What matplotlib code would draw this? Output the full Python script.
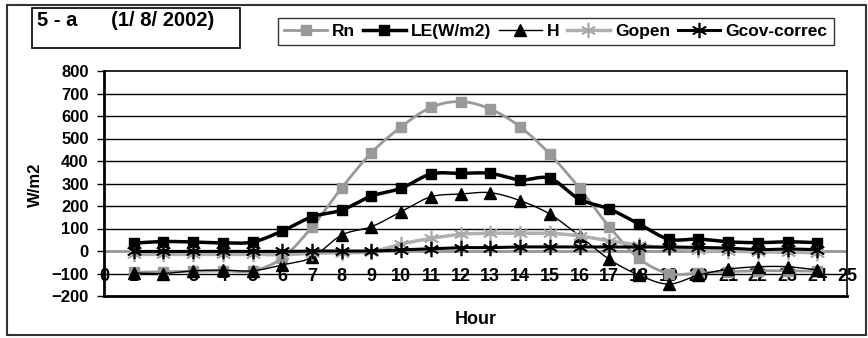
import numpy as np
import matplotlib
matplotlib.use("Agg")
import matplotlib.pyplot as plt
from matplotlib.lines import Line2D
from matplotlib.patches import Rectangle

plt.rcParams['font.family'] = ['Liberation Sans', 'DejaVu Sans']
plt.rcParams['font.weight'] = 'bold'

# hourly energy balance components, W/m2
hours = list(range(1, 25))
rn = [-95, -92, -90, -88, -88, -31, 107, 281, 437, 552, 638, 664,
      631, 552, 431, 279, 108, -33, -100, -98, -92, -88, -88, -90]
le = [35, 42, 40, 36, 40, 89, 152, 182, 244, 279, 342, 345,
      345, 316, 323, 230, 187, 120, 53, 53, 41, 37, 41, 37]
h = [-98, -100, -88, -85, -88, -62, -28, 71, 108, 175, 241, 253,
     259, 224, 164, 67, -37, -107, -147, -107, -81, -70, -70, -84]
gopen = [-15, -15, -15, -15, -15, -17, -10, -8, -3, 31, 56, 74,
         79, 79, 79, 67, 45, 27, 12, 5, 0, -5, -5, -8]
gcov = [-2, -2, -2, -2, -2, -2, 0, 0, 0, 5, 10, 15,
        15, 18, 18, 18, 18, 18, 18, 16, 13, 6, 9, 6]

x_ticks = list(range(0, 26))
y_ticks = list(range(-200, 900, 100))


def smooth(x, y, n=20):
    # Catmull-Rom curve through the points, like a smoothed line chart
    x = np.asarray(x, float)
    y = np.asarray(y, float)
    px = np.concatenate([[2 * x[0] - x[1]], x, [2 * x[-1] - x[-2]]])
    py = np.concatenate([[2 * y[0] - y[1]], y, [2 * y[-1] - y[-2]]])
    t = np.linspace(0, 1, n, endpoint=False)[:, None]
    out_x, out_y = [], []
    for i in range(1, len(px) - 2):
        for p, out in ((px, out_x), (py, out_y)):
            p0, p1, p2, p3 = p[i - 1], p[i], p[i + 1], p[i + 2]
            c = 0.5 * (2 * p1 + (-p0 + p2) * t + (2 * p0 - 5 * p1 + 4 * p2 - p3) * t ** 2
                       + (-p0 + 3 * p1 - 3 * p2 + p3) * t ** 3)
            out.extend(c.ravel())
    out_x.append(x[-1])
    out_y.append(y[-1])
    return np.array(out_x), np.array(out_y)


W, H = 868, 338
fig = plt.figure(figsize=(W / 100, H / 100), dpi=100)
ax = fig.add_axes([104 / W, 1 - 296 / H, (847 - 104) / W, (296 - 71) / H])

series = [
    ("Rn", rn, dict(color="#999999", lw=2.0), dict(marker="s", ms=7, mfc="#999999", mec="#999999")),
    ("LE(W/m2)", le, dict(color="black", lw=2.5), dict(marker="s", ms=7, mfc="black", mec="black")),
    ("H", h, dict(color="black", lw=1.0), dict(marker="^", ms=8, mfc="black", mec="black")),
    ("Gopen", gopen, dict(color="#b0b0b0", lw=2.5), dict(marker=(6, 2, 0), ms=11, mec="#a8a8a8", mew=1.2)),
    ("Gcov-correc", gcov, dict(color="black", lw=2.2), dict(marker=(6, 2, 0), ms=11, mec="black", mew=1.2)),
]

for y in y_ticks[1:-1]:
    ax.axhline(y, color="black", lw=1.0, zorder=1)
ax.axhline(0, color="#999999", lw=2.0, zorder=1.5)

handles = []
for z, (name, vals, lstyle, mstyle) in enumerate(series):
    sx, sy = smooth(hours, vals)
    ax.plot(sx, sy, zorder=3 + z, **lstyle)
    ax.plot(hours, vals, ls="none", zorder=3 + z, **mstyle)
    handles.append(Line2D([], [], label=name, **lstyle, **mstyle))

ax.set_xlim(0, 25)
ax.set_ylim(-200, 800)
ax.set_yticks(y_ticks)
ax.set_xticks(x_ticks)
ax.tick_params(axis="y", labelsize=12, length=5, width=1, pad=6)
ax.tick_params(axis="x", labelsize=13, length=0, pad=-20)
for lab in ax.get_xticklabels() + ax.get_yticklabels():
    lab.set_fontweight("bold")
for lab in ax.get_xticklabels():
    lab.set_zorder(10)

for side in ("left", "bottom"):
    ax.spines[side].set_linewidth(2.0)
for side in ("top", "right"):
    ax.spines[side].set_linewidth(1.2)

fig.text(35 / W, 1 - 185 / H, "W/m2", rotation=90, ha="center", va="center",
         fontsize=12, fontweight="bold")
fig.text(476 / W, 1 - 320 / H, "Hour", ha="center", va="center",
         fontsize=13, fontweight="bold")

# title box
fig.add_artist(Rectangle((32 / W, 1 - 48 / H), 208 / W, 40 / H, transform=fig.transFigure,
                         fill=False, lw=1.2, ec="black"))
fig.text(37 / W, 1 - 11 / H, "5 - a      (1/ 8/ 2002)", ha="left", va="top",
         fontsize=14.5, fontweight="bold")

# outer chart border
fig.add_artist(Rectangle((7 / W, 1 - 335 / H), 859 / W, 330 / H, transform=fig.transFigure,
                         fill=False, lw=1.5, ec="#333333"))

leg = fig.legend(handles=handles, loc="center", bbox_to_anchor=(556 / W, 1 - 31.5 / H),
                 ncol=5, frameon=True, fancybox=False, handlelength=2.45,
                 handletextpad=0.3, columnspacing=0.45, borderpad=0.35, numpoints=1,
                 prop=dict(weight="bold", size=12.5))
leg.get_frame().set_edgecolor("black")
leg.get_frame().set_linewidth(1.0)

fig.savefig("out.png", dpi=100)
